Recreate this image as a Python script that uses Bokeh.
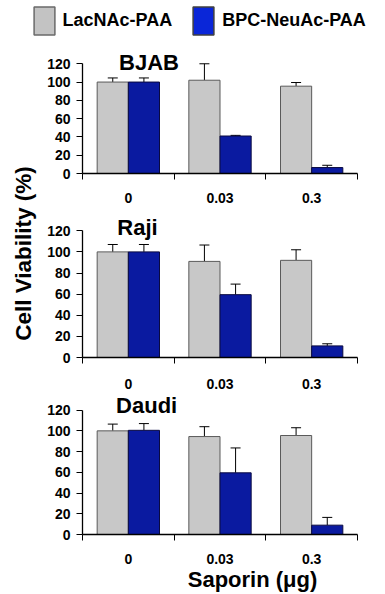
from bokeh.plotting import figure
from bokeh.models import (ColumnDataSource, Range1d, FixedTicker, Whisker, TeeHead,
                          Label, Legend, LegendItem)
from bokeh.layouts import column, row
from bokeh.embed import file_html
from bokeh.resources import INLINE
import math

# ---------------- data ----------------
doses = ["0", "0.03", "0.3"]
series_names = ["LacNAc-PAA", "BPC-NeuAc-PAA"]
cell_lines = ["BJAB", "Raji", "Daudi"]

bjab_lac = [100, 102, 95.5]
bjab_lac_err = [4.5, 18, 4]
bjab_bpc = [100, 41, 6.5]
bjab_bpc_err = [4.5, 0.7, 2.5]

raji_lac = [100, 91, 92]
raji_lac_err = [7, 15.5, 10]
raji_bpc = [100, 59.5, 11]
raji_bpc_err = [7, 10, 2]

daudi_lac = [100, 94.5, 95.5]
daudi_lac_err = [6.5, 9.5, 7.5]
daudi_bpc = [100.5, 59.5, 9]
daudi_bpc_err = [6.5, 24, 7.5]

y_ticks = [0, 20, 40, 60, 80, 100, 120]
y_title = "Cell Viability (%)"
x_title = "Saporin (\u03bcg)"

# ---------------- style ----------------
FONT = "Liberation Sans"
GRAY = "#c8c8c8"
GRAY_LINE = "#5a5a5a"
BLUE = "#0a1aa0"
BLUE_LINE = "#0a0a40"
LEG_GRAY = "#c3c3c3"
LEG_BLUE = "#0a26d8"
TOTAL_W = 384
YT_W = 40
PANEL_W = TOTAL_W - YT_W
BAR_W = 0.34


def blank_fig(w, h):
    f = figure(width=w, height=h, output_backend="svg", toolbar_location=None,
               x_range=Range1d(0, 1), y_range=Range1d(0, 1),
               x_axis_location=None, y_axis_location=None,
               min_border=0)
    f.outline_line_color = None
    f.grid.visible = False
    f.background_fill_color = None
    f.border_fill_color = None
    return f


def make_panel(name, lac, lac_err, bpc, bpc_err, height, top, bottom, left, right,
               y_end, standoff, title_xy):
    n = len(doses)
    centers = [i + 0.5 for i in range(n)]
    src = ColumnDataSource(dict(
        xg=[c - BAR_W / 2 for c in centers],
        xb=[c + BAR_W / 2 for c in centers],
        lac=lac, bpc=bpc,
        lac_up=[v + e for v, e in zip(lac, lac_err)],
        bpc_up=[v + e for v, e in zip(bpc, bpc_err)],
    ))
    p = figure(width=PANEL_W, height=height, output_backend="svg", toolbar_location=None,
               x_range=Range1d(0, n), y_range=Range1d(0, y_end),
               min_border_top=top, min_border_bottom=bottom,
               min_border_left=left, min_border_right=right)
    p.outline_line_color = None
    p.xgrid.visible = False
    p.ygrid.visible = False
    p.background_fill_color = None
    p.border_fill_color = None

    p.vbar(x="xg", top="lac", width=BAR_W, source=src, fill_color=GRAY,
           line_color=GRAY_LINE, line_width=1)
    p.vbar(x="xb", top="bpc", width=BAR_W, source=src, fill_color=BLUE,
           line_color=BLUE_LINE, line_width=1)

    for base, lo, up in (("xg", "lac", "lac_up"), ("xb", "bpc", "bpc_up")):
        w = Whisker(source=src, base=base, lower=lo, upper=up, dimension="height",
                    upper_head=TeeHead(size=10, line_color="black", line_width=1),
                    lower_head=None, line_color="black", line_width=1)
        p.add_layout(w)

    xa = p.xaxis[0]
    xa.ticker = FixedTicker(ticks=centers, minor_ticks=list(range(n + 1)))
    xa.major_label_overrides = {c: d for c, d in zip(centers, doses)}
    xa.major_tick_out = 0
    xa.major_tick_in = 0
    xa.minor_tick_out = 6
    xa.minor_tick_in = 0
    xa.minor_tick_line_color = "black"
    xa.axis_line_color = "black"
    xa.axis_line_width = 1.3
    xa.major_label_standoff = standoff
    xa.major_label_text_font = FONT
    xa.major_label_text_font_style = "bold"
    xa.major_label_text_font_size = "14px"
    xa.major_label_text_color = "black"

    ya = p.yaxis[0]
    ya.ticker = FixedTicker(ticks=y_ticks)
    ya.bounds = (y_ticks[0], y_ticks[-1])
    ya.major_tick_out = 6
    ya.major_tick_in = 0
    ya.minor_tick_out = 0
    ya.minor_tick_in = 0
    ya.major_tick_line_color = "black"
    ya.axis_line_color = "black"
    ya.axis_line_width = 1.3
    ya.major_label_standoff = 6
    ya.major_label_text_font = FONT
    ya.major_label_text_font_style = "bold"
    ya.major_label_text_font_size = "14px"
    ya.major_label_text_color = "black"

    p.add_layout(Label(x=title_xy[0], y=title_xy[1], text=name, text_align="center",
                       text_baseline="middle", text_font=FONT, text_font_style="bold",
                       text_font_size="22px", text_color="black"))
    return p


p1 = make_panel(cell_lines[0], bjab_lac, bjab_lac_err, bjab_bpc, bjab_bpc_err,
                166, 8, 33, 40, 27, 136.7, 13, (0.726, 121.4))
p2 = make_panel(cell_lines[1], raji_lac, raji_lac_err, raji_bpc, raji_bpc_err,
                186, 8, 35, 42, 22, 135.4, 15, (0.60, 123.1))
p3 = make_panel(cell_lines[2], daudi_lac, daudi_lac_err, daudi_bpc, daudi_bpc_err,
                174, 3, 31, 39, 1, 134.1, 13, (0.70, 124.8))

# legend figure (renderers hold no drawable data; they only carry legend colours)
leg_fig = blank_fig(TOTAL_W, 40)
leg_src = ColumnDataSource(dict(x=[float("nan")], top=[float("nan")]))
r_g = leg_fig.vbar(x="x", top="top", width=BAR_W, source=leg_src, fill_color=LEG_GRAY,
                   line_color="#6a6a6a", line_width=1.5)
r_b = leg_fig.vbar(x="x", top="top", width=BAR_W, source=leg_src, fill_color=LEG_BLUE,
                   line_color="#404040", line_width=1.5)
legend = Legend(items=[LegendItem(label=series_names[0], renderers=[r_g]),
                       LegendItem(label=series_names[1], renderers=[r_b])],
                orientation="horizontal", location=(30.5, 2.5),
                padding=0, margin=0, spacing=18, label_standoff=6,
                glyph_width=26, glyph_height=35,
                border_line_color=None, background_fill_alpha=0,
                label_text_font=FONT, label_text_font_style="bold",
                label_text_font_size="18px", label_text_color="black")
leg_fig.add_layout(legend, "center")

# y-axis title figure
panels_h = 166 + 186 + 174
yt_fig = blank_fig(YT_W, panels_h)
yt_fig.add_layout(Label(x=0.58, y=0.595, text=y_title, angle=math.pi / 2,
                        text_align="center", text_baseline="middle", text_font=FONT,
                        text_font_style="bold", text_font_size="22.5px",
                        text_color="black"))

# x-axis title figure
XT_H = 27
xt_fig = blank_fig(TOTAL_W, XT_H)
xt_fig.add_layout(Label(x=252 / TOTAL_W, y=0.52, text=x_title, text_align="center",
                        text_baseline="middle", text_font=FONT, text_font_style="bold",
                        text_font_size="22px", text_color="black"))

layout = column(leg_fig, row(yt_fig, column(p1, p2, p3, spacing=0), spacing=0),
                xt_fig, spacing=0)
open("out.html", "w").write(file_html(layout, INLINE))
